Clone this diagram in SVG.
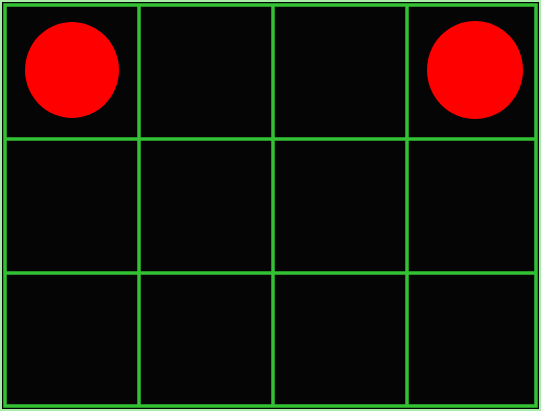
<svg xmlns="http://www.w3.org/2000/svg" width="541" height="411" viewBox="0 0 541 411">
<style>
.g{stroke:#33c233;stroke-width:3.5;fill:none}
.c{fill:#ff0000}
</style>
<rect x="0" y="0" width="541" height="411" fill="#a8eea8"/>
<rect x="2" y="2" width="537" height="407" fill="#050505"/>
<g id="grid">
<rect class="g" x="5" y="5" width="531" height="401"/>
<line class="g" x1="139" y1="5" x2="139" y2="406"/>
<line class="g" x1="273" y1="5" x2="273" y2="406"/>
<line class="g" x1="407" y1="5" x2="407" y2="406"/>
<line class="g" x1="5" y1="139" x2="536" y2="139"/>
<line class="g" x1="5" y1="273" x2="536" y2="273"/>
</g>
<g id="circle-left"><ellipse class="c" cx="72" cy="70" rx="47" ry="48"/></g>
<g id="circle-right"><ellipse class="c" cx="475" cy="70" rx="48" ry="49"/></g>
</svg>
